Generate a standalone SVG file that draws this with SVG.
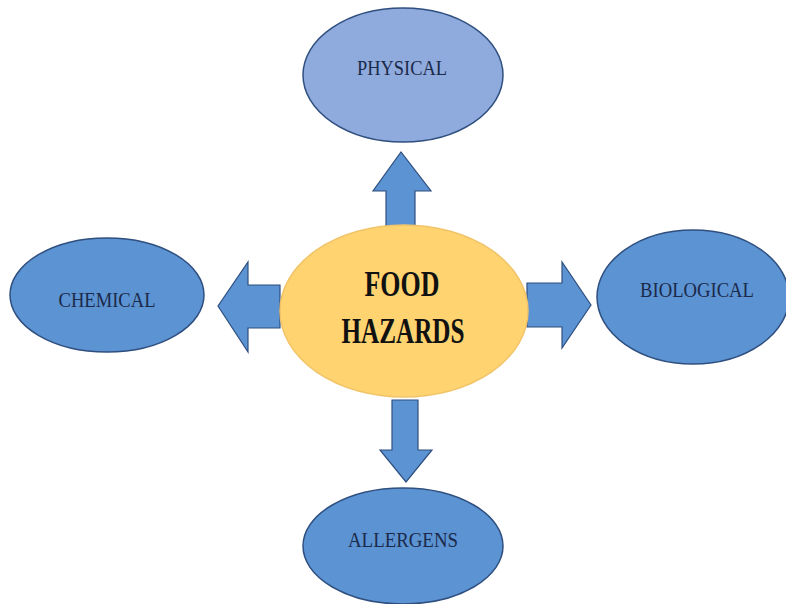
<svg xmlns="http://www.w3.org/2000/svg" width="786" height="604" viewBox="0 0 786 604">
<style>
.node{fill:#5B93D3;stroke:#2F4F7F;stroke-width:1.5}
.phys{fill:#8FAADC;stroke:#2F4F7F;stroke-width:1.5}
.center{fill:#FFD36F;stroke:#F2C46A;stroke-width:1.5}
.arrow{fill:#5B93D3;stroke:#2F4F7F;stroke-width:1.2;stroke-linejoin:miter}
.lbl{font-family:"Liberation Serif","Times New Roman",serif;font-size:22px;fill:#1B2A4A;text-anchor:middle}
.big{font-family:"Liberation Serif","Times New Roman",serif;font-weight:bold;font-size:36px;fill:#111;text-anchor:middle}
</style>
<rect width="786" height="604" fill="#ffffff"/>
<g id="connectors">
<polygon class="arrow" points="386,228 386,191 373,191 401,152 431,191 415,191 415,228"/>
<polygon class="arrow" points="280,285 248,285 248,262 218,306 248,352 248,328 280,328"/>
<polygon class="arrow" points="527,283 562,283 562,262 591,305 562,348 562,327 527,327"/>
<polygon class="arrow" points="392,400 418,400 418,450 432,450 406,482 380,450 392,450"/>
</g>
<g id="physical">
<ellipse class="phys" cx="403" cy="75" rx="100" ry="67"/>
<text class="lbl" x="402" y="75" textLength="90" lengthAdjust="spacingAndGlyphs">PHYSICAL</text>
</g>
<g id="chemical">
<ellipse class="node" cx="107" cy="295" rx="97" ry="57"/>
<text class="lbl" x="107" y="307" textLength="97" lengthAdjust="spacingAndGlyphs">CHEMICAL</text>
</g>
<g id="biological">
<ellipse class="node" cx="693" cy="297" rx="96" ry="67"/>
<text class="lbl" x="697" y="297" textLength="114" lengthAdjust="spacingAndGlyphs">BIOLOGICAL</text>
</g>
<g id="allergens">
<ellipse class="node" cx="403" cy="546" rx="100" ry="58"/>
<text class="lbl" x="403" y="547" textLength="110" lengthAdjust="spacingAndGlyphs">ALLERGENS</text>
</g>
<g id="food-hazards">
<ellipse class="center" cx="404" cy="311" rx="124" ry="86"/>
<text class="big" x="402" y="296" textLength="75" lengthAdjust="spacingAndGlyphs">FOOD</text>
<text class="big" x="403" y="343" textLength="123" lengthAdjust="spacingAndGlyphs">HAZARDS</text>
</g>
</svg>
